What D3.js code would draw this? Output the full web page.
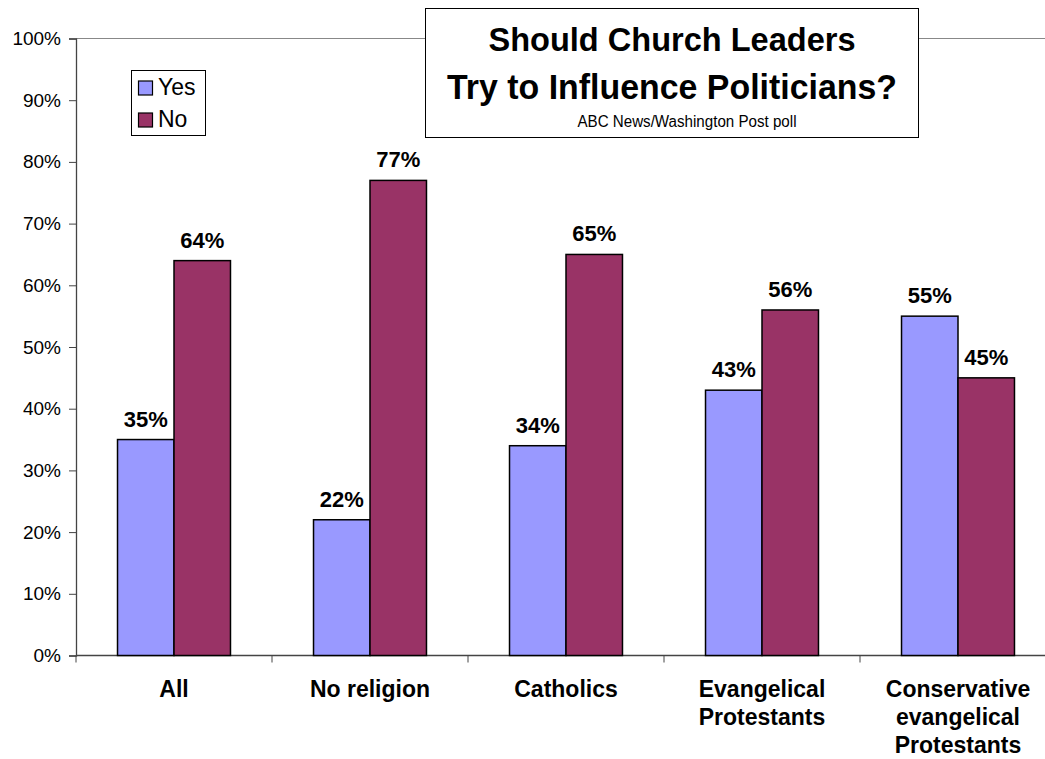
<!DOCTYPE html>
<html>
<head>
<script src="https://d3js.org/d3.v7.min.js"></script>
<style>
  body { margin: 0; background: #fff; }
  svg { font-family: Arial, "Liberation Sans", sans-serif; display: block; }
</style>
</head>
<body>
<div id="chart"></div>
<script>
// Data
const categories = [["All"], ["No religion"], ["Catholics"], ["Evangelical", "Protestants"], ["Conservative", "evangelical", "Protestants"]];
const yesValues = [35, 22, 34, 43, 55];
const noValues = [64, 77, 65, 56, 45];
const seriesNames = ["Yes", "No"];
const yTicks = [0, 10, 20, 30, 40, 50, 60, 70, 80, 90, 100];
const colors = ["#9999ff", "#993366"];

const W = 1045, H = 759;
const plotLeft = 76, plotTop = 38.5, plotBottom = 655.5, plotRight = 1056;

const svg = d3.select("#chart").append("svg")
  .attr("width", W).attr("height", H);

const x = d3.scaleBand()
  .domain(d3.range(categories.length))
  .range([plotLeft, plotRight])
  .paddingInner(0).paddingOuter(0);

const xs = d3.scaleBand()
  .domain(seriesNames)
  .range([0, x.bandwidth()])
  .paddingInner(0).paddingOuter(0.735);

const y = d3.scaleLinear().domain([0, 100]).range([plotBottom, plotTop]);

// top border of plot area
svg.append("line")
  .attr("x1", plotLeft).attr("x2", W).attr("y1", plotTop).attr("y2", plotTop)
  .attr("stroke", "#888").attr("stroke-width", 1);

// y axis
const yAxis = svg.append("g")
  .attr("transform", `translate(${plotLeft},0)`)
  .call(d3.axisLeft(y).tickValues(yTicks).tickSize(7).tickPadding(8).tickFormat(d => d + "%"));
yAxis.select(".domain").attr("stroke", "#444").attr("stroke-width", 1.3);
yAxis.selectAll(".tick line").attr("stroke", "#444");
yAxis.selectAll("text").attr("font-size", 19).attr("fill", "#000")
  .attr("font-family", "Arial, 'Liberation Sans', sans-serif");

// x axis
const xAxisG = svg.append("g").attr("transform", `translate(0,${plotBottom})`);
xAxisG.append("line").attr("x1", plotLeft).attr("x2", W)
  .attr("stroke", "#444").attr("stroke-width", 1.3);
const boundaries = d3.range(categories.length).map(i => x(i));
xAxisG.selectAll("line.tk").data(boundaries).join("line")
  .attr("class", "tk")
  .attr("x1", d => d).attr("x2", d => d).attr("y1", 0).attr("y2", 7)
  .attr("stroke", "#444");

// category labels
const labels = svg.append("g");
categories.forEach((lines, i) => {
  const t = labels.append("text")
    .attr("x", x(i) + x.bandwidth() / 2)
    .attr("y", 697)
    .attr("text-anchor", "middle")
    .attr("font-size", 23).attr("font-weight", "bold");
  lines.forEach((ln, j) => {
    t.append("tspan").attr("x", x(i) + x.bandwidth() / 2)
      .attr("dy", j === 0 ? 0 : 28).text(ln);
  });
});

// bars
const rows = categories.map((c, i) => ({ i, vals: [yesValues[i], noValues[i]] }));
const groups = svg.selectAll("g.grp").data(rows).join("g")
  .attr("class", "grp")
  .attr("transform", d => `translate(${x(d.i)},0)`);

groups.selectAll("rect")
  .data(d => d.vals.map((v, k) => ({ k, v })))
  .join("rect")
  .attr("x", d => xs(seriesNames[d.k]))
  .attr("width", xs.bandwidth())
  .attr("y", d => y(d.v))
  .attr("height", d => y(0) - y(d.v))
  .attr("fill", d => colors[d.k])
  .attr("stroke", "#000").attr("stroke-width", 1.5);

groups.selectAll("text")
  .data(d => d.vals.map((v, k) => ({ k, v })))
  .join("text")
  .attr("x", d => xs(seriesNames[d.k]) + xs.bandwidth() / 2)
  .attr("y", d => y(d.v) - 13)
  .attr("text-anchor", "middle")
  .attr("font-size", 22).attr("font-weight", "bold")
  .text(d => d.v + "%");

// legend
const lg = svg.append("g");
lg.append("rect").attr("x", 131.5).attr("y", 70.5).attr("width", 74).attr("height", 65)
  .attr("fill", "#fff").attr("stroke", "#000").attr("stroke-width", 1);
seriesNames.forEach((s, k) => {
  lg.append("rect").attr("x", 138.5).attr("y", 81 + k * 32).attr("width", 14).attr("height", 14)
    .attr("fill", colors[k]).attr("stroke", "#000").attr("stroke-width", 1.2);
  lg.append("text").attr("x", 158).attr("y", 95 + k * 32)
    .attr("font-size", 23).text(s);
});

// title box
const tb = svg.append("g");
tb.append("rect").attr("x", 425.5).attr("y", 8.5).attr("width", 493).attr("height", 129)
  .attr("fill", "#fff").attr("stroke", "#000").attr("stroke-width", 1);
tb.append("text").attr("x", 672).attr("y", 51).attr("text-anchor", "middle")
  .attr("font-size", 34).attr("font-weight", "bold").attr("textLength", 367)
  .attr("lengthAdjust", "spacingAndGlyphs").text("Should Church Leaders");
tb.append("text").attr("x", 672).attr("y", 99).attr("text-anchor", "middle")
  .attr("font-size", 35).attr("font-weight", "bold").attr("textLength", 450)
  .attr("lengthAdjust", "spacingAndGlyphs").text("Try to Influence Politicians?");
tb.append("text").attr("x", 687).attr("y", 127).attr("text-anchor", "middle")
  .attr("font-size", 16).attr("textLength", 219)
  .attr("lengthAdjust", "spacingAndGlyphs").text("ABC News/Washington Post poll");
</script>
</body>
</html>
